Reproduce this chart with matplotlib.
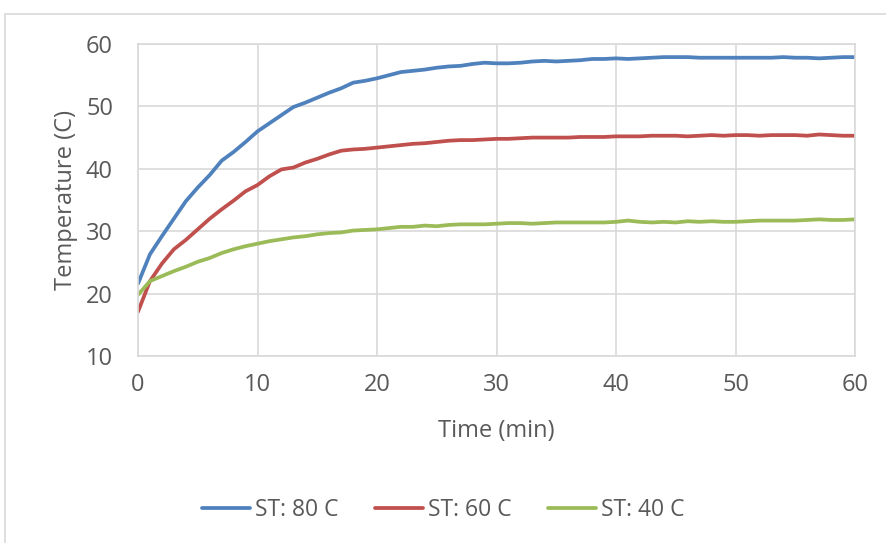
import matplotlib.pyplot as plt
from matplotlib.patches import Rectangle

# time in minutes, one reading per minute
minutes = list(range(0, 61))

st_80 = [21.6, 26.3, 29.2, 32.0, 34.8, 37.0, 39.0, 41.3, 42.7, 44.3,
         46.0, 47.3, 48.6, 49.9, 50.6, 51.4, 52.2, 52.9, 53.8, 54.1,
         54.5, 55.0, 55.5, 55.7, 55.9, 56.2, 56.4, 56.5, 56.8, 57.0,
         56.9, 56.9, 57.0, 57.2, 57.3, 57.2, 57.3, 57.4, 57.6, 57.6,
         57.7, 57.6, 57.7, 57.8, 57.9, 57.9, 57.9, 57.8, 57.8, 57.8,
         57.8, 57.8, 57.8, 57.8, 57.9, 57.8, 57.8, 57.7, 57.8, 57.9, 57.9]

st_60 = [17.1, 22.0, 24.8, 27.1, 28.6, 30.3, 32.0, 33.5, 34.9, 36.4,
         37.4, 38.8, 39.9, 40.2, 41.0, 41.6, 42.3, 42.9, 43.1, 43.2,
         43.4, 43.6, 43.8, 44.0, 44.1, 44.3, 44.5, 44.6, 44.6, 44.7,
         44.8, 44.8, 44.9, 45.0, 45.0, 45.0, 45.0, 45.1, 45.1, 45.1,
         45.2, 45.2, 45.2, 45.3, 45.3, 45.3, 45.2, 45.3, 45.4, 45.3,
         45.4, 45.4, 45.3, 45.4, 45.4, 45.4, 45.3, 45.5, 45.4, 45.3, 45.3]

st_40 = [19.8, 22.0, 22.8, 23.6, 24.3, 25.1, 25.7, 26.5, 27.1, 27.6,
         28.0, 28.4, 28.7, 29.0, 29.2, 29.5, 29.7, 29.8, 30.1, 30.2,
         30.3, 30.5, 30.7, 30.7, 30.9, 30.8, 31.0, 31.1, 31.1, 31.1,
         31.2, 31.3, 31.3, 31.2, 31.3, 31.4, 31.4, 31.4, 31.4, 31.4,
         31.5, 31.7, 31.5, 31.4, 31.5, 31.4, 31.6, 31.5, 31.6, 31.5,
         31.5, 31.6, 31.7, 31.7, 31.7, 31.7, 31.8, 31.9, 31.8, 31.8, 31.9]

series = [("ST: 80 C", st_80, "#4F81BD"),
          ("ST: 60 C", st_60, "#C0504D"),
          ("ST: 40 C", st_40, "#9BBB59")]

plt.rcParams['font.family'] = ['Open Sans', 'DejaVu Sans']
text_color = "#595959"
grid_color = "#D9D9D9"
fs = 17

fig = plt.figure(figsize=(8.86, 5.43), dpi=100)
ax = fig.add_axes([138 / 886, 1 - 356 / 543, (855 - 138) / 886, (356 - 44) / 543])

for name, vals, col in series:
    ax.plot(minutes, vals, color=col, lw=2.7, label=name, solid_capstyle='round')

ax.set_xlim(0, 60)
ax.set_ylim(10, 60)
ax.set_xticks(range(0, 61, 10))
ax.set_yticks(range(10, 61, 10))
ax.grid(True, color=grid_color, lw=1.2)
ax.set_axisbelow(True)
for s in ax.spines.values():
    s.set_color(grid_color)
    s.set_linewidth(1.2)
ax.tick_params(length=0, labelsize=fs, labelcolor=text_color)
ax.tick_params(axis='y', pad=18)
ax.tick_params(axis='x', pad=12)

ax.set_xlabel("Time (min)", fontsize=fs, color=text_color, labelpad=16)
ax.set_ylabel("Temperature (C)", fontsize=fs, color=text_color, labelpad=6)

fig.legend(loc='center', bbox_to_anchor=(0.5, 1 - 510 / 543), ncol=3,
           frameon=False, fontsize=16.5, handlelength=2.1, handletextpad=0.2,
           columnspacing=1.6, labelcolor=text_color)

# outer chart border
fig.patches.append(Rectangle((5 / 886, -0.05), 1.0, 1 - 14 / 543 + 0.05,
                             transform=fig.transFigure, fill=False,
                             edgecolor=grid_color, lw=1.2))

fig.savefig("out.png", dpi=100)
